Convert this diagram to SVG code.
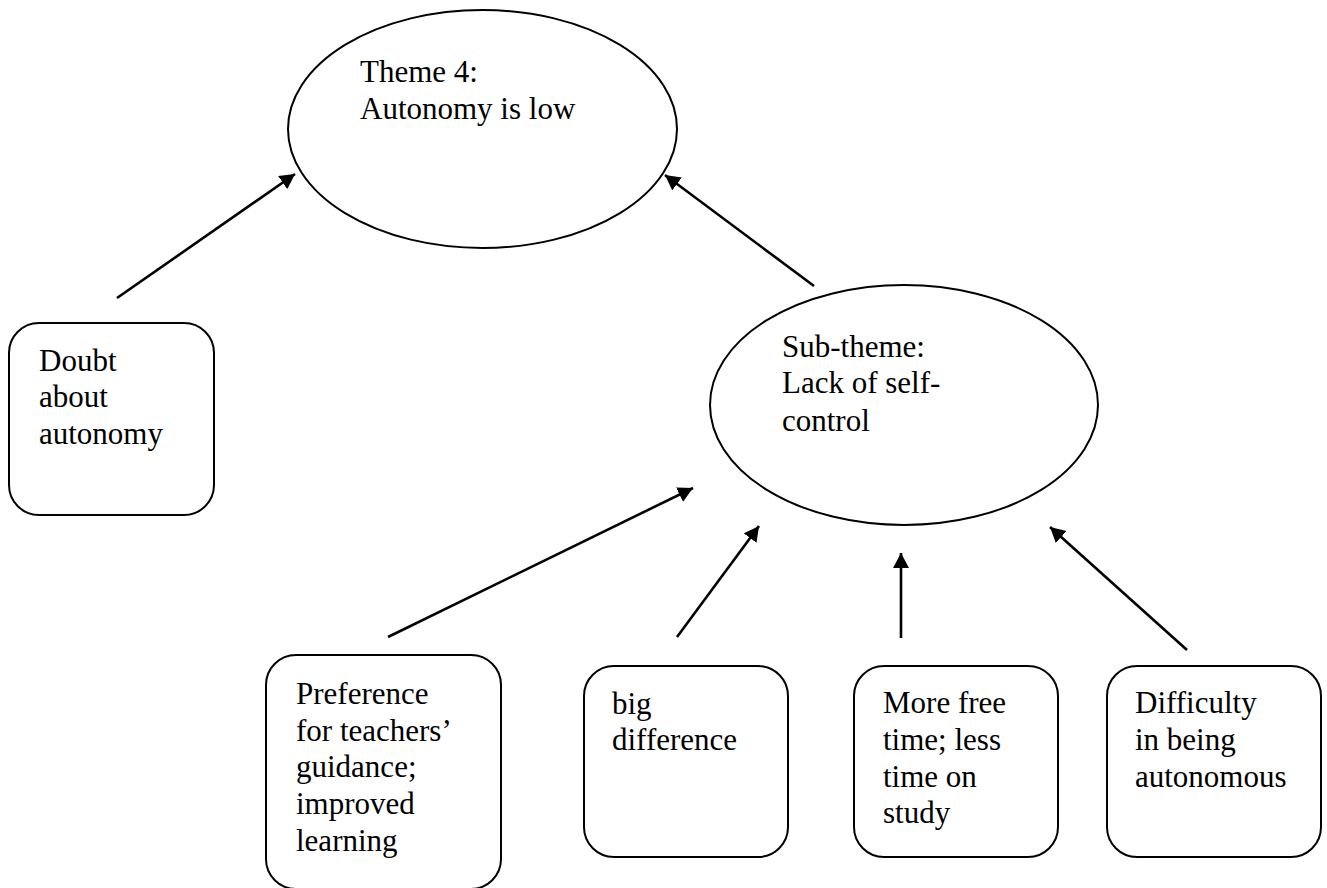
<svg xmlns="http://www.w3.org/2000/svg" width="1327" height="888" viewBox="0 0 1327 888">
  <style>
    .shape { fill: #ffffff; stroke: #000000; stroke-width: 2; }
    .label { font-size: 31px; fill: #000000; }
    .link { stroke: #000000; stroke-width: 2.6; fill: none; marker-end: url(#head); }
  </style>
  <defs>
    <marker id="head" markerUnits="userSpaceOnUse" markerWidth="16" markerHeight="17" refX="15" refY="8" orient="auto">
      <path d="M0,0 L15,8 L0,16 z" fill="#000000"/>
    </marker>
  </defs>
  <rect width="1327" height="888" fill="#ffffff"/>

  <g font-family="'Liberation Serif', 'DejaVu Serif', serif">
  <!-- main theme -->
  <g id="theme4">
    <ellipse class="shape" cx="482.5" cy="129" rx="194.5" ry="119"/>
    <text class="label" x="360" y="82">Theme 4:</text>
    <text class="label" x="360" y="119">Autonomy is low</text>
  </g>

  <!-- sub-theme -->
  <g id="subtheme">
    <ellipse class="shape" cx="904" cy="405" rx="194" ry="120"/>
    <text class="label" x="782" y="357">Sub-theme:</text>
    <text class="label" x="782" y="393">Lack of self-</text>
    <text class="label" x="782" y="431">control</text>
  </g>

  <g id="doubt">
    <rect class="shape" x="9" y="323" width="205" height="192" rx="30" ry="30"/>
    <text class="label" x="39" y="371">Doubt</text>
    <text class="label" x="39" y="407">about</text>
    <text class="label" x="39" y="444">autonomy</text>
  </g>

  <g id="preference">
    <rect class="shape" x="266" y="655" width="235" height="234" rx="30" ry="30"/>
    <text class="label" x="296" y="704">Preference</text>
    <text class="label" x="296" y="741">for teachers’</text>
    <text class="label" x="296" y="777">guidance;</text>
    <text class="label" x="296" y="814">improved</text>
    <text class="label" x="296" y="851">learning</text>
  </g>

  <g id="bigdifference">
    <rect class="shape" x="584" y="666" width="204" height="191" rx="30" ry="30"/>
    <text class="label" x="612" y="714">big</text>
    <text class="label" x="612" y="750">difference</text>
  </g>

  <g id="freetime">
    <rect class="shape" x="854" y="666" width="204" height="191" rx="30" ry="30"/>
    <text class="label" x="883" y="713">More free</text>
    <text class="label" x="883" y="750">time; less</text>
    <text class="label" x="883" y="787">time on</text>
    <text class="label" x="883" y="823">study</text>
  </g>

  <g id="difficulty">
    <rect class="shape" x="1107" y="666" width="214" height="191" rx="30" ry="30"/>
    <text class="label" x="1135" y="713">Difficulty</text>
    <text class="label" x="1135" y="750">in being</text>
    <text class="label" x="1135" y="787">autonomous</text>
  </g>
  </g>

  <!-- connectors -->
  <g id="connectors">
    <line class="link" x1="117" y1="298" x2="295" y2="174"/>
    <line class="link" x1="814" y1="286" x2="665" y2="175"/>
    <line class="link" x1="388" y1="637" x2="693" y2="488"/>
    <line class="link" x1="677" y1="637" x2="759" y2="526"/>
    <line class="link" x1="901" y1="638" x2="901" y2="553"/>
    <line class="link" x1="1187" y1="650" x2="1050" y2="527"/>
  </g>
</svg>
